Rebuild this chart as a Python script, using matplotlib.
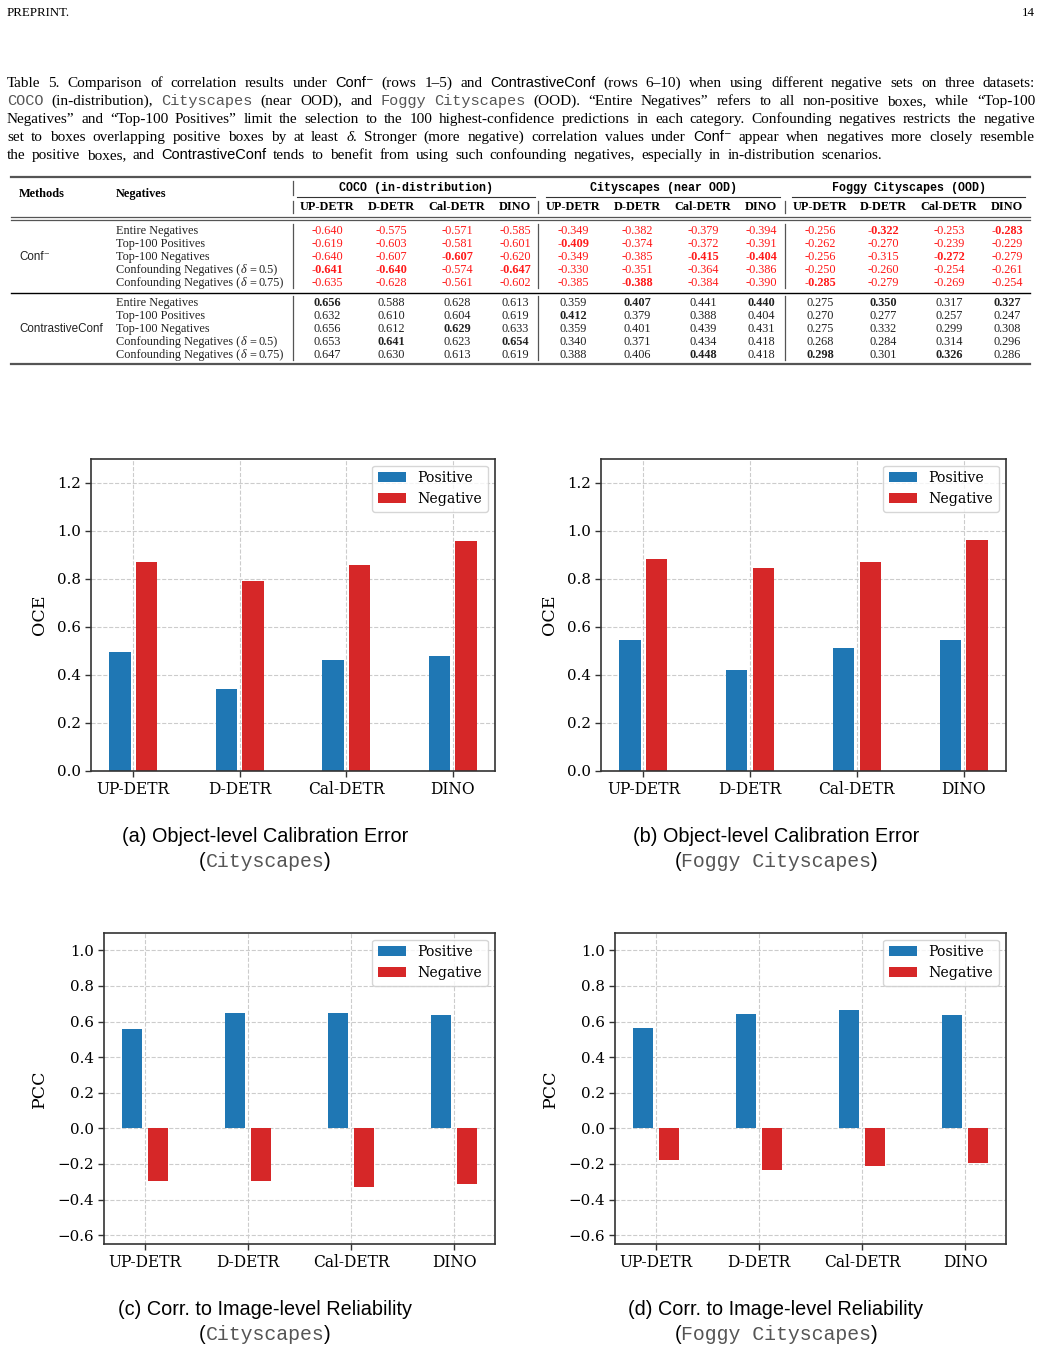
import matplotlib
matplotlib.use('Agg')
import matplotlib.pyplot as plt
import numpy as np
from matplotlib.lines import Line2D

# ---------------- data ----------------
models = ['UP-DETR', 'D-DETR', 'Cal-DETR', 'DINO']

oce_city_pos = [0.494, 0.340, 0.461, 0.478]
oce_city_neg = [0.869, 0.790, 0.857, 0.958]
oce_foggy_pos = [0.544, 0.419, 0.511, 0.544]
oce_foggy_neg = [0.882, 0.844, 0.869, 0.961]
pcc_city_pos = [0.557, 0.647, 0.647, 0.636]
pcc_city_neg = [-0.298, -0.298, -0.332, -0.315]
pcc_foggy_pos = [0.563, 0.642, 0.664, 0.636]
pcc_foggy_neg = [-0.180, -0.236, -0.214, -0.197]

table_methods = ['Conf\u207b', 'ContrastiveConf']
table_negatives = ['Entire Negatives', 'Top-100 Positives', 'Top-100 Negatives',
                   'Confounding Negatives', 'Confounding Negatives']
table_delta = [None, None, None, '0.5', '0.75']
table_datasets = ['COCO (in-distribution)', 'Cityscapes (near OOD)', 'Foggy Cityscapes (OOD)']
conf_minus = [
    [-0.640, -0.575, -0.571, -0.585, -0.349, -0.382, -0.379, -0.394, -0.256, -0.322, -0.253, -0.283],
    [-0.619, -0.603, -0.581, -0.601, -0.409, -0.374, -0.372, -0.391, -0.262, -0.270, -0.239, -0.229],
    [-0.640, -0.607, -0.607, -0.620, -0.349, -0.385, -0.415, -0.404, -0.256, -0.315, -0.272, -0.279],
    [-0.641, -0.640, -0.574, -0.647, -0.330, -0.351, -0.364, -0.386, -0.250, -0.260, -0.254, -0.261],
    [-0.635, -0.628, -0.561, -0.602, -0.385, -0.388, -0.384, -0.390, -0.285, -0.279, -0.269, -0.254],
]
contrastive = [
    [0.656, 0.588, 0.628, 0.613, 0.359, 0.407, 0.441, 0.440, 0.275, 0.350, 0.317, 0.327],
    [0.632, 0.610, 0.604, 0.619, 0.412, 0.379, 0.388, 0.404, 0.270, 0.277, 0.257, 0.247],
    [0.656, 0.612, 0.629, 0.633, 0.359, 0.401, 0.439, 0.431, 0.275, 0.332, 0.299, 0.308],
    [0.653, 0.641, 0.623, 0.654, 0.340, 0.371, 0.434, 0.418, 0.268, 0.284, 0.314, 0.296],
    [0.647, 0.630, 0.613, 0.619, 0.388, 0.406, 0.448, 0.418, 0.298, 0.301, 0.326, 0.286],
]

# ---------------- setup ----------------
W, H = 1041, 1351
plt.rcParams['font.family'] = ['DejaVu Serif']
plt.rcParams['axes.unicode_minus'] = True

fig = plt.figure(figsize=(W / 100, H / 100), dpi=100)
fig.patch.set_facecolor('white')
renderer = fig.canvas.get_renderer()


def fx(x):
    return x / W


def fy(y):
    return 1 - y / H


SERIF = ['Liberation Serif', 'DejaVu Serif']
SANS = ['Liberation Sans', 'DejaVu Sans']
MONO = ['Liberation Mono', 'DejaVu Sans Mono']


def P(family, size, **kw):
    d = dict(family=family, fontsize=size)
    d.update(kw)
    return d


def seg_width(text, props):
    t = fig.text(0, 0, text, **props)
    w = t.get_window_extent(renderer).width
    t.remove()
    return w


def place(segs, x, y, align='left'):
    segs = [(s[0], s[1], s[2] if len(s) > 2 else 0.0) for s in segs]
    total = sum(seg_width(t, p) + g for t, p, g in segs)
    if align == 'center':
        x = x - total / 2
    elif align == 'right':
        x = x - total
    for t, p, g in segs:
        x += g
        fig.text(fx(x), fy(y), t, ha='left', va='baseline', **p)
        x += seg_width(t, p)


def S(s, props):
    return [[(w, props)] for w in s.split()]


def draw_words(words, x0, x1, y):
    widths = [sum(seg_width(t, p) for t, p in w) for w in words]
    gap = (x1 - x0 - sum(widths)) / (len(words) - 1)
    x = x0
    for w, wd in zip(words, widths):
        xx = x
        for t, p in w:
            fig.text(fx(xx), fy(y), t, ha='left', va='baseline', **p)
            xx += seg_width(t, p)
        x += wd + gap


def hline(x0, x1, y, lw=0.8, color='black'):
    fig.add_artist(Line2D([fx(x0), fx(x1)], [fy(y), fy(y)], lw=lw, color=color))


def vline(x, y0, y1, lw=0.9, color='#555555'):
    fig.add_artist(Line2D([fx(x), fx(x)], [fy(y0), fy(y1)], lw=lw, color=color))


# ---------------- page header ----------------
place([('PREPRINT.', P(SERIF, 9.3))], 7, 16)
place([('14', P(SERIF, 9.3))], 1035, 16, align='right')

# ---------------- table caption ----------------
cs = 11.0
tp = P(SERIF, cs)
sp = P(SANS, 10.5)
mp = P(MONO, 11.0, color='#555555')
ip = P(SERIF, cs, style='italic')
lines = [
    S('Table 5. Comparison of correlation results under', tp) + [[('Conf\u207b', sp)]]
    + S('(rows 1\u20135) and', tp) + [[('ContrastiveConf', sp)]]
    + S('(rows 6\u201310) when using different negative sets on three datasets:', tp),
    [[('COCO', mp)]] + S('(in-distribution),', tp) + [[('Cityscapes', mp)]]
    + S('(near OOD), and', tp) + [[('Foggy', mp)], [('Cityscapes', mp)]]
    + S('(OOD). \u201cEntire Negatives\u201d refers to all non-positive boxes, while \u201cTop-100', tp),
    S('Negatives\u201d and \u201cTop-100 Positives\u201d limit the selection to the 100 highest-confidence '
      'predictions in each category. Confounding negatives restricts the negative', tp),
    S('set to boxes overlapping positive boxes by at least', tp) + [[('\u03b4', ip), ('.', tp)]]
    + S('Stronger (more negative) correlation values under', tp) + [[('Conf\u207b', sp)]]
    + S('appear when negatives more closely resemble', tp),
    S('the positive boxes, and', tp) + [[('ContrastiveConf', sp)]]
    + S('tends to benefit from using such confounding negatives, especially in in-distribution scenarios.', tp),
]
cap_y = [87, 105, 123, 141, 159]
cap_right = [1035, 1035, 1035, 1035, 882]
for ln, y, r in zip(lines, cap_y, cap_right):
    draw_words(ln, 7, r, y)

# ---------------- table ----------------
ts = 8.8
col_x = [327, 391, 457, 515, 573, 637, 703, 761, 820, 883, 949, 1007]
grp_span = [(297, 535), (546, 780), (792, 1025)]
hline(11, 1030, 177, lw=1.6, color='#555555')
place([('Methods', P(SERIF, ts, weight='bold'))], 19, 197)
place([('Negatives', P(SERIF, ts, weight='bold'))], 116, 197)
for (a, b), name in zip(grp_span, table_datasets):
    place([(name, P(MONO, ts * 0.95, weight='bold'))], (a + b) / 2, 191, align='center')
    hline(a, b, 197, lw=0.8, color='#333333')
for cx, m in zip(col_x, models * 3):
    place([(m, P(SERIF, ts, weight='bold'))], cx, 210, align='center')
hline(11, 1030, 216.7, lw=0.9, color='#555555')
hline(11, 1030, 219.7, lw=0.9, color='#555555')
vline(292.7, 181, 195)
for xv in [292.7, 538, 785]:
    vline(xv, 201, 213)

blocks = [(conf_minus, 230, '#ff1a1a', np.argmin),
          (contrastive, 302, '#222222', np.argmax)]
lab = P(SERIF, ts, color='#222222')
lab_it = P(SERIF, ts, color='#222222', style='italic')
for bi, (vals, y0, color, best_fn) in enumerate(blocks):
    arr = np.array(vals)
    best = [best_fn(arr[:, j]) for j in range(arr.shape[1])]
    for r, (neg, dl) in enumerate(zip(table_negatives, table_delta)):
        y = y0 + 13 * r + 4
        if dl is None:
            place([(neg, lab)], 116, y)
        else:
            place([(neg + ' (', lab), ('\u03b4', lab_it), ('=', lab, 3.0),
                   (dl + ')', lab, 3.0)], 116, y)
        for j, cx in enumerate(col_x):
            bold = best[j] == r
            place([('%.3f' % arr[r, j], P(SERIF, ts, color=color,
                                           weight='bold' if bold else 'normal'))], cx, y, align='center')
    place([(table_methods[bi], P(SANS, ts * 0.95, color='#222222'))], 19, y0 + 26 + 4)
    for xv in [292.7, 538, 785]:
        vline(xv, y0 - 6, y0 + 58)
hline(11, 1030, 292.7, lw=1.0, color='black')
hline(11, 1030, 363.5, lw=1.6, color='#555555')

# ---------------- charts ----------------


def bar_chart(px_rect, pos, neg, ylabel, ylim, yticks):
    x0, y0, x1, y1 = px_rect
    ax = fig.add_axes([fx(x0), fy(y1), (x1 - x0) / W, (y1 - y0) / H])
    x = np.arange(len(models))
    ax.bar(x - 0.125, pos, 0.2, color='#1f77b4', label='Positive')
    ax.bar(x + 0.125, neg, 0.2, color='#d62728', label='Negative')
    ax.set_xticks(x)
    ax.set_xticklabels(models, fontsize=11.2)
    ax.set_ylim(*ylim)
    ax.set_yticks(yticks)
    ax.set_yticklabels(['%.1f' % v if v >= 0 else '\u2212%.1f' % abs(v) for v in yticks], fontsize=10.8)
    ax.set_ylabel(ylabel, fontsize=12.5, labelpad=6.5)
    ax.grid(True, linestyle='--', color='#cccccc', linewidth=0.8)
    ax.set_axisbelow(True)
    ax.legend(loc='upper right', fontsize=10.2)
    for s in ax.spines.values():
        s.set_color('#333333')
        s.set_linewidth(1.2)
    ax.tick_params(length=4, width=1, color='#333333')
    return ax


oce_ticks = [0.0, 0.2, 0.4, 0.6, 0.8, 1.0, 1.2]
pcc_ticks = [-0.6, -0.4, -0.2, 0.0, 0.2, 0.4, 0.6, 0.8, 1.0]
bar_chart((91, 458.5, 495, 770.7), oce_city_pos, oce_city_neg, 'OCE', (0, 1.3), oce_ticks)
bar_chart((601, 458.5, 1006, 770.7), oce_foggy_pos, oce_foggy_neg, 'OCE', (0, 1.3), oce_ticks)
bar_chart((104, 932.5, 495, 1244), pcc_city_pos, pcc_city_neg, 'PCC', (-0.65, 1.1), pcc_ticks)
bar_chart((615, 932.5, 1006, 1244), pcc_foggy_pos, pcc_foggy_neg, 'PCC', (-0.65, 1.1), pcc_ticks)

# ---------------- sub captions ----------------
cap_sans = P(SANS, 14.3)
cap_mono = P(MONO, 14.3, color='#555555')
subcaps = [
    (265, 842, '(a) Object-level Calibration Error', 'Cityscapes'),
    (776, 842, '(b) Object-level Calibration Error', 'Foggy Cityscapes'),
    (265, 1315, '(c) Corr. to Image-level Reliability', 'Cityscapes'),
    (776, 1315, '(d) Corr. to Image-level Reliability', 'Foggy Cityscapes'),
]
for cx, by, title, ds in subcaps:
    place([(title, cap_sans)], cx, by, align='center')
    place([('(', cap_sans), (ds, cap_mono), (')', cap_sans)], cx, by + 25, align='center')

fig.savefig('out.png', dpi=100, facecolor='white')
